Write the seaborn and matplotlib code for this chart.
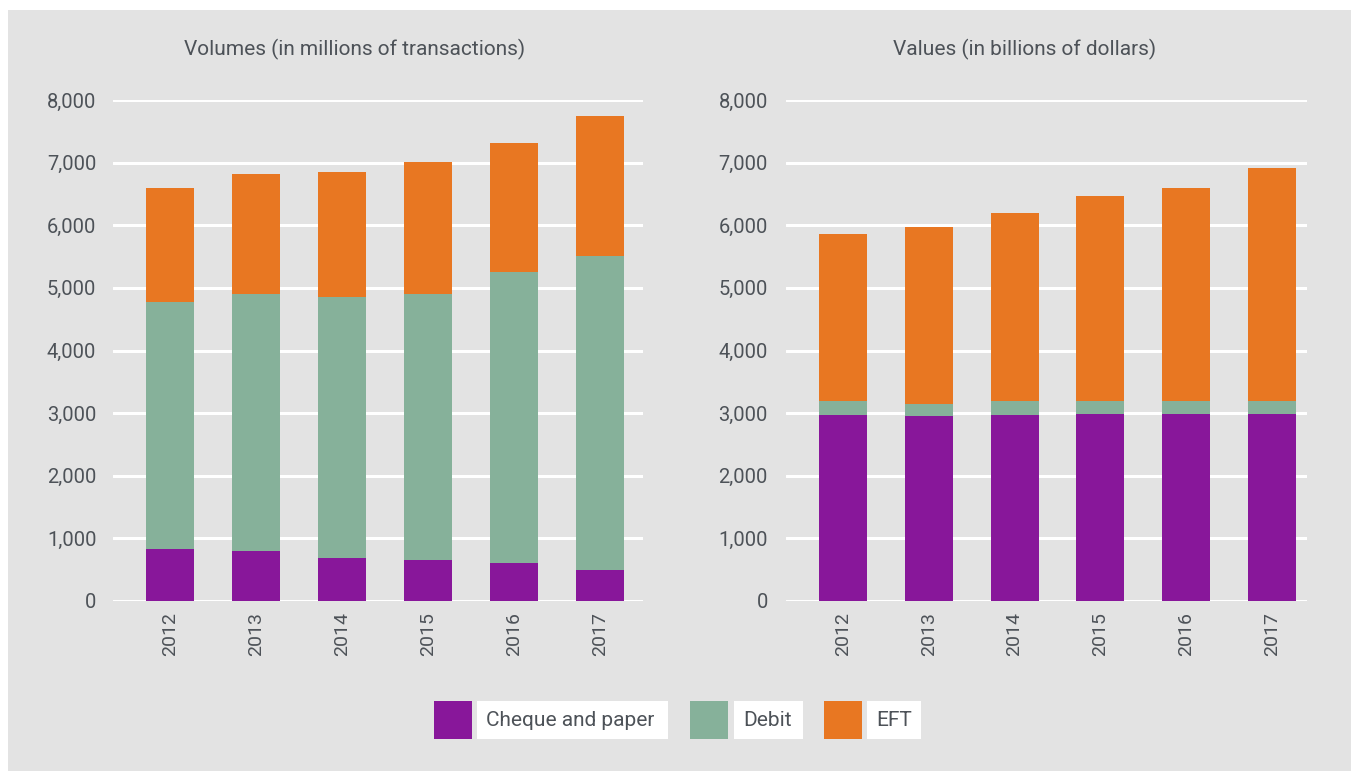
import matplotlib
matplotlib.use("Agg")
import matplotlib.pyplot as plt
from matplotlib.patches import Rectangle
import pandas as pd
import seaborn as sns

# data
years = ["2012", "2013", "2014", "2015", "2016", "2017"]
series = ["Cheque and paper", "Debit", "EFT"]
colors = ["#88179a", "#86b19a", "#e87722"]

vol_cheque = [830, 800, 690, 655, 605, 495]
vol_debit = [3950, 4105, 4166, 4249, 4650, 5016]
vol_eft = [1817, 1916, 1997, 2109, 2060, 2237]

val_cheque = [2970, 2955, 2970, 2990, 2990, 2990]
val_debit = [225, 192, 225, 205, 205, 205]
val_eft = [2668, 2827, 3003, 3275, 3402, 3722]

y_ticks = [0, 1000, 2000, 3000, 4000, 5000, 6000, 7000, 8000]
titles = ["Volumes (in millions of transactions)", "Values (in billions of dollars)"]

BG = "#e3e3e3"
TXT = "#4d5258"
W, H = 1351, 771

sns.set_style("whitegrid", rc={"axes.facecolor": BG, "figure.facecolor": "white",
                               "grid.color": "white", "axes.edgecolor": BG})
plt.rcParams["font.family"] = ["Roboto", "DejaVu Sans"]


def fx(px):
    return px / W


def fy(py):
    return 1 - py / H


fig = plt.figure(figsize=(13.51, 7.71), dpi=100)
# grey panel behind everything
fig.add_artist(Rectangle((fx(8), 0), 1 - fx(8), fy(10), transform=fig.transFigure,
                         facecolor=BG, edgecolor="none", zorder=-10))

ax_left = fig.add_axes([fx(113), fy(601), fx(643) - fx(113), fy(100) - fy(601)])
ax_right = fig.add_axes([fx(786), fy(601), fx(1307) - fx(786), fy(100) - fy(601)])

panels = [
    (ax_left, [vol_cheque, vol_debit, vol_eft], (-0.66, 5.5), 12, titles[0], 355),
    (ax_right, [val_cheque, val_debit, val_eft], (-0.665, 5.41), 13, titles[1], 1025),
]

for ax, stacks, xlim, pad, title, tx in panels:
    bottom = [0] * len(years)
    for name, vals, col in zip(series, stacks, colors):
        df = pd.DataFrame({"year": years, "value": vals})
        sns.barplot(data=df, x="year", y="value", color=col, width=0.56,
                    bottom=bottom, ax=ax, saturation=1, zorder=3,
                    edgecolor="none", linewidth=0)
        bottom = [b + v for b, v in zip(bottom, vals)]
    ax.set_xlim(*xlim)
    ax.set_ylim(0, 8000)
    ax.set_yticks(y_ticks)
    ax.set_yticklabels([f"{t:,}" for t in y_ticks])
    ax.grid(axis="y", color="white", linewidth=2.2, zorder=0)
    ax.grid(axis="x", visible=False)
    ax.set_axisbelow(True)
    for s in ax.spines.values():
        s.set_visible(False)
    ax.set_xlabel("")
    ax.set_ylabel("")
    ax.tick_params(axis="y", length=0, pad=pad, labelsize=14.5, labelcolor=TXT)
    ax.tick_params(axis="x", length=0, pad=8, labelsize=14, labelcolor=TXT,
                   labelrotation=90)
    ax.set_facecolor("none")
    fig.text(fx(tx), fy(49), title, ha="center", va="center", fontsize=15, color=TXT)

# legend: colour squares with white label boxes
legend_pos = [(434, 477, 668), (690, 734, 803), (824, 867, 921)]
for name, col, (sq, lb0, lb1) in zip(series, colors, legend_pos):
    fig.add_artist(Rectangle((fx(sq), fy(739)), fx(38), 38 / H, transform=fig.transFigure,
                             facecolor=col, edgecolor="none"))
    fig.add_artist(Rectangle((fx(lb0), fy(739)), fx(lb1 - lb0), 38 / H,
                             transform=fig.transFigure, facecolor="white", edgecolor="none"))
    fig.text(fx(lb0 + 9), fy(720), name, ha="left", va="center", fontsize=15, color=TXT)

fig.savefig("out.png", dpi=100)
